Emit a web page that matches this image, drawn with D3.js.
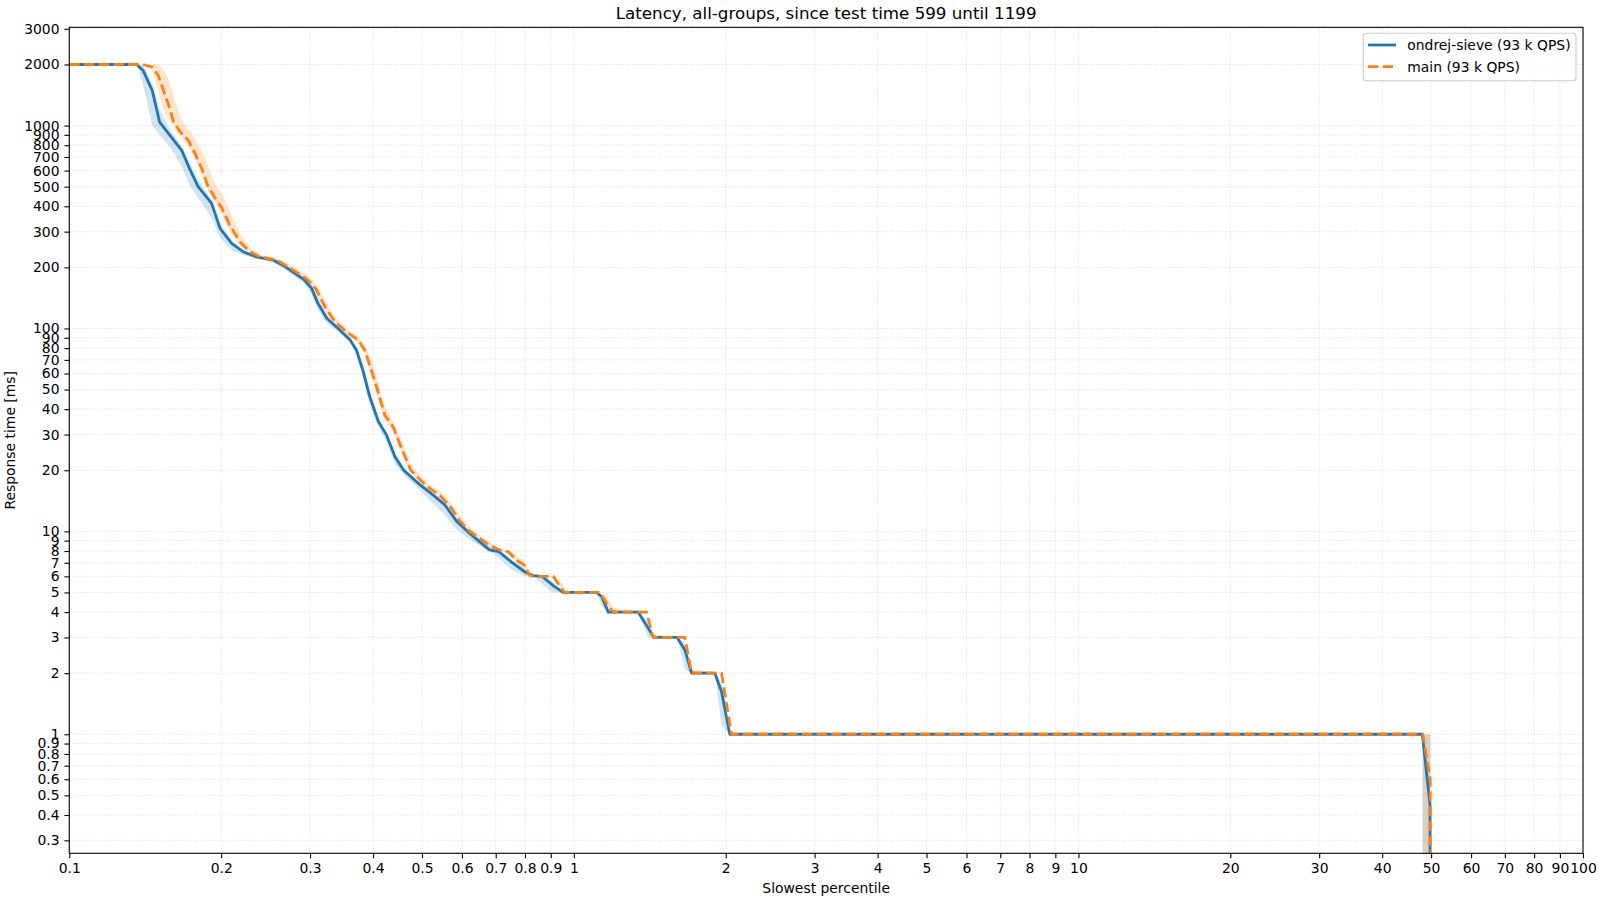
<!DOCTYPE html>
<html><head><meta charset="utf-8">
<script src="https://cdn.jsdelivr.net/npm/d3@7"></script>
<style>
html,body{margin:0;padding:0;background:#fff;}
svg{display:block;font-family:"DejaVu Sans",sans-serif;}
</style></head>
<body>
<svg id="chart" width="1600" height="900"></svg>
<script>
// ---------- data ----------
const titleText = "Latency, all-groups, since test time 599 until 1199";
const xLabelText = "Slowest percentile";
const yLabelText = "Response time [ms]";
const seriesNames = ["ondrej-sieve (93 k QPS)", "main (93 k QPS)"];

const xTicks = [0.1,0.2,0.3,0.4,0.5,0.6,0.7,0.8,0.9,1,2,3,4,5,6,7,8,9,10,20,30,40,50,60,70,80,90,100];
const yTicks = [0.3,0.4,0.5,0.6,0.7,0.8,0.9,1,2,3,4,5,6,7,8,9,10,20,30,40,50,60,70,80,90,100,200,300,400,500,600,700,800,900,1000,2000,3000];

// ondrej-sieve (blue)
const sieveX  = [0.1,0.136,0.140,0.146,0.151,0.158,0.167,0.173,0.180,0.1915,0.199,0.210,0.221,0.235,0.254,0.265,0.291,0.302,0.311,0.324,0.341,0.360,0.371,0.382,0.394,0.410,0.4255,0.442,0.460,0.495,0.528,0.555,0.586,0.615,0.650,0.680,0.710,0.750,0.800,0.830,0.865,0.910,0.952,1.109,1.135,1.170,1.341,1.404,1.440,1.602,1.660,1.711,1.903,1.962,2.037,48.05,48.1,49.75,49.8,49.85];
const sieveY  = [2000,2000,1870,1490,1040,900,755,615,500,413,311,262,239,225,217,205,175,158,133,112,100,88,78,62,46,34.7,29.8,23.3,20,17.0,15.0,13.5,11.2,10.0,8.9,8.1,7.95,7.1,6.3,6.05,6.0,5.4,5.0,5.0,4.76,4.0,4.0,3.33,3.0,3.0,2.6,2.0,2.0,1.62,1.0,1.0,0.97,0.45,0.05,0.05];
const sieveLo = [2000,2000,1600,1000,900,790,630,510,440,350,280,242,230,221,211,198,168,148,123,106,96,85,73,57,42,32.5,27.5,21.5,19.0,16.0,13.6,12.0,10.2,9.3,8.5,8.0,7.4,6.5,6.0,6.0,5.5,5.0,5.0,5.0,4.3,4.0,4.0,3.0,3.0,3.0,2.1,2.0,2.0,1.1,1.0,1.0,0.01,0.01,0.01,0.01];
const sieveHi = [2000,2000,1990,1600,1200,960,790,660,540,430,330,270,244,228,220,210,178,163,140,116,102,90,80,66,50,36,30.5,24.5,20.5,17.3,15.3,13.7,11.4,10.2,9.1,8.3,8.0,7.3,6.5,6.1,6.0,5.6,5.0,5.0,4.9,4.1,4.0,3.6,3.05,3.0,2.8,2.05,2.0,1.8,1.0,1.0,1.0,1.0,1.0,0.01];

// main (orange)
const mainX  = [0.1,0.140,0.146,0.150,0.1536,0.157,0.161,0.166,0.172,0.1775,0.183,0.1885,0.194,0.200,0.208,0.218,0.228,0.239,0.258,0.278,0.295,0.303,0.309,0.321,0.336,0.3545,0.374,0.385,0.397,0.410,0.422,0.4385,0.456,0.475,0.509,0.543,0.568,0.595,0.622,0.656,0.682,0.713,0.741,0.770,0.800,0.815,0.830,0.910,0.952,0.960,1.126,1.161,1.196,1.393,1.436,1.660,1.711,1.962,2.053,48.15,48.2,49.8,49.85,49.9];
const mainY  = [2000,2000,1944,1770,1490,1283,1042,930,847,728,614,499,445,397,323,267,239,225,217,194,176,165,155,128,108,96,87.6,78,62,47.8,37.4,32.7,25.5,20,16.8,15.0,13.3,11.2,10.0,9.1,8.5,8.1,7.95,7.2,6.8,6.1,6.0,6.0,5.1,5.0,5.0,4.42,4.0,4.0,3.0,3.0,2.0,2.0,1.0,1.0,0.98,0.6,0.05,0.05];
const mainLo = [2000,2000,1850,1500,1200,1080,980,880,790,680,570,470,420,370,300,255,235,222,214,188,170,158,145,120,104,93,85,75,58,44,35,31,24,19.5,16.4,14.6,12.8,10.8,9.7,8.9,8.2,8.0,7.8,6.9,6.2,6.0,6.0,5.9,5.0,5.0,5.0,4.2,4.0,4.0,3.0,3.0,2.0,2.0,1.0,1.0,0.01,0.01,0.01,0.01];
const mainHi = [2000,2000,2000,2000,1900,1700,1400,1100,960,860,760,630,520,465,380,295,252,231,223,202,184,174,165,138,114,100,91,84,70,54,41,35,28,21.5,17.6,15.8,14.0,12.0,10.5,9.4,8.9,8.2,8.0,7.6,7.0,6.4,6.0,6.0,5.5,5.0,5.0,4.8,4.2,4.0,3.1,3.0,2.1,2.0,1.0,1.0,1.0,1.0,1.0,0.01];

const colors = ["#1f77b4", "#ff7f0e"];

// ---------- layout ----------
const svg = d3.select("#chart");
const L = 69.3, R = 1583, T = 27.3, B = 853.3;
const x = d3.scaleLog().domain([0.1, 100]).range([L, R]);
const y = d3.scaleLog().domain([0.259, 3050]).range([B, T]);
const FS = 13.9;

svg.append("defs").append("clipPath").attr("id", "clip")
  .append("rect").attr("x", L).attr("y", T).attr("width", R - L).attr("height", B - T);

// grid
const grid = svg.append("g");
grid.selectAll("line.gx").data(xTicks).join("line")
  .attr("x1", d => x(d)).attr("x2", d => x(d)).attr("y1", T).attr("y2", B)
  .attr("stroke", "#d4d4d4").attr("stroke-width", 0.8).attr("stroke-dasharray", "1.1,1.8");
grid.selectAll("line.gy").data(yTicks).join("line")
  .attr("y1", d => y(d)).attr("y2", d => y(d)).attr("x1", L).attr("x2", R)
  .attr("stroke", "#d4d4d4").attr("stroke-width", 0.8).attr("stroke-dasharray", "1.1,1.8");

// series
const series = [
  {xs: sieveX, ys: sieveY, lo: sieveLo, hi: sieveHi, color: colors[0], dash: null},
  {xs: mainX, ys: mainY, lo: mainLo, hi: mainHi, color: colors[1], dash: "10.3,4.45"}
];
const plot = svg.append("g").attr("clip-path", "url(#clip)");
const area = d3.area().x(d => x(d.x)).y0(d => y(d.lo)).y1(d => y(d.hi)).curve(d3.curveLinear);
const line = d3.line().x(d => x(d.x)).y(d => y(d.y)).curve(d3.curveLinear);
series.forEach(s => {
  const pts = s.xs.map((v, i) => ({x: v, y: s.ys[i], lo: s.lo[i], hi: s.hi[i]}));
  s.pts = pts;
  plot.append("path").datum(pts).attr("d", area)
    .attr("fill", s.color).attr("fill-opacity", 0.2).attr("stroke", "none");
});
series.forEach(s => {
  plot.append("path").datum(s.pts).attr("d", line)
    .attr("fill", "none").attr("stroke", s.color).attr("stroke-width", 2.78)
    .attr("stroke-dasharray", s.dash).attr("stroke-linejoin", "round");
});

// axes
const fmt = d => String(d);
const xAxis = svg.append("g").attr("transform", `translate(0,${B})`)
  .call(d3.axisBottom(x).tickValues(xTicks).tickFormat(fmt).tickSize(4.9).tickPadding(4.9));
const yAxis = svg.append("g").attr("transform", `translate(${L},0)`)
  .call(d3.axisLeft(y).tickValues(yTicks).tickFormat(fmt).tickSize(4.9).tickPadding(4.9));
[xAxis, yAxis].forEach(a => {
  a.select(".domain").remove();
  a.selectAll(".tick line").attr("stroke", "#000").attr("stroke-width", 1.1);
  a.selectAll(".tick text").attr("fill", "#000").style("font-size", FS + "px")
    .style("font-family", '"DejaVu Sans", sans-serif');
});

// frame
svg.append("rect").attr("x", L).attr("y", T).attr("width", R - L).attr("height", B - T)
  .attr("fill", "none").attr("stroke", "#000").attr("stroke-width", 1.1);

// title & labels
svg.append("text").attr("x", (L + R) / 2).attr("y", 19).attr("text-anchor", "middle")
  .style("font-size", "16.7px").attr("fill", "#000").text(titleText);
svg.append("text").attr("x", (L + R) / 2).attr("y", 893).attr("text-anchor", "middle")
  .style("font-size", FS + "px").attr("fill", "#000").text(xLabelText);
svg.append("text").attr("transform", `translate(14.5,${(T + B) / 2}) rotate(-90)`)
  .attr("text-anchor", "middle").style("font-size", FS + "px").attr("fill", "#000").text(yLabelText);

// legend
const lg = svg.append("g");
lg.append("rect").attr("x", 1363.3).attr("y", 33.3).attr("width", 1576 - 1363.3).attr("height", 80.7 - 33.3)
  .attr("rx", 3).attr("ry", 3).attr("fill", "#fff").attr("fill-opacity", 0.8)
  .attr("stroke", "#cccccc").attr("stroke-width", 1.1);
seriesNames.forEach((name, i) => {
  const yy = 45 + i * 21.7;
  lg.append("line").attr("x1", 1368).attr("x2", 1396).attr("y1", yy).attr("y2", yy)
    .attr("stroke", colors[i]).attr("stroke-width", 2.78)
    .attr("stroke-dasharray", series[i].dash);
  lg.append("text").attr("x", 1407.3).attr("y", yy).attr("dy", "0.36em")
    .style("font-size", FS + "px").attr("fill", "#000").text(name);
});
</script>
</body></html>
